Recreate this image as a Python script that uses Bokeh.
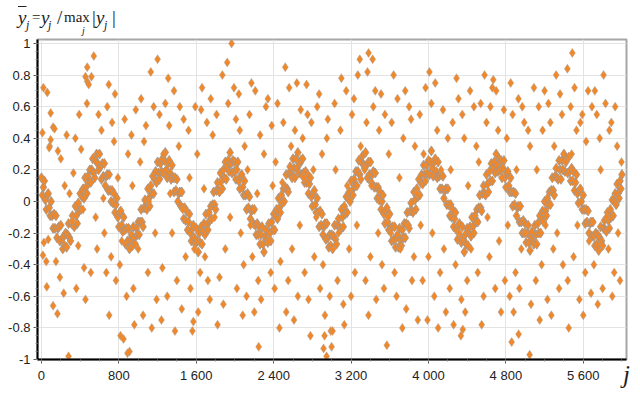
from bokeh.plotting import figure
from bokeh.models import FixedTicker, Range1d, Div
from bokeh.layouts import column
from bokeh.embed import file_html
from bokeh.resources import INLINE

# ---- axis ticks / labels ----
X_TICKS = [0, 800, 1600, 2400, 3200, 4000, 4800, 5600]
X_LABELS = ["0", "800", "1 600", "2 400", "3 200", "4 000", "4 800", "5 600"]
Y_TICKS = [-1, -0.8, -0.6, -0.4, -0.2, 0, 0.2, 0.4, 0.6, 0.8, 1]
Y_LABELS = ["-1", "-0.8", "-0.6", "-0.4", "-0.2", "0", "0.2", "0.4", "0.6", "0.8", "1"]

# ---- dense band of normalised values, read every 10 samples ----
band_j = list(range(0, 6001, 10))
band_y = [
    .15, .04, .09, .13, .01, -.05, .04, .05, -.04, -.09, .00, -.09, -.17, -.08, -.17, -.09, -.23, -.17, -.16, -.25, -.15, -.24, -.30, -.22, -.28,
    -.20, -.29, -.21, -.14, -.23, -.25, -.14, -.09, -.15, -.16, -.03, -.09, -.14, -.01, -.06, .05, -.05, .03, .08, .02, .15, .09, .05, .16, .12,
    .20, .12, .20, .27, .18, .15, .26, .30, .24, .20, .30, .22, .14, .24, .16, .24, .10, .16, .17, .07, .17, .07, .00, .07, -.01,
    .05, -.07, -.02, .02, -.10, -.16, -.07, -.06, -.15, -.19, -.10, -.18, -.27, -.17, -.25, -.17, -.30, -.24, -.21, -.28, -.16, -.23, -.27, -.17, -.21,
    -.13, -.21, -.13, -.05, -.13, -.16, -.04, .01, -.04, -.05, .08, .02, -.03, .10, .05, .16, .05, .14, .19, .12, .25, .18, .14, .24, .19,
    .27, .18, .26, .31, .20, .15, .24, .26, .18, .14, .23, .15, .06, .15, .07, .14, .00, .05, .06, -.03, .06, -.04, -.11, -.04, -.12,
    -.06, -.18, -.13, -.08, -.20, -.25, -.17, -.15, -.23, -.27, -.17, -.25, -.32, -.20, -.26, -.16, -.27, -.19, -.14, -.21, -.08, -.15, -.18, -.07, -.12,
    -.03, -.11, -.02, .06, -.02, -.05, .07, .12, .07, .06, .18, .13, .08, .20, .15, .25, .14, .22, .26, .19, .31, .24, .18, .26, .19,
    .25, .14, .20, .25, .13, .08, .16, .17, .09, .04, .13, .04, -.05, .05, -.04, .03, -.11, -.06, -.05, -.14, -.05, -.15, -.21, -.14, -.21,
    -.16, -.27, -.21, -.16, -.27, -.32, -.22, -.18, -.24, -.26, -.14, -.20, -.25, -.13, -.18, -.08, -.18, -.09, -.05, -.11, .02, -.04, -.07, .04, -.01,
    .08, .00, .09, .17, .08, .06, .18, .22, .17, .15, .27, .21, .15, .27, .21, .31, .18, .24, .26, .17, .27, .18, .12, .19, .12,
    .17, .05, .11, .15, .03, -.03, .05, .07, -.02, -.07, .02, -.07, -.16, -.06, -.15, -.08, -.21, -.16, -.14, -.24, -.14, -.23, -.29, -.21, -.28,
    -.21, -.30, -.22, -.15, -.24, -.27, -.15, -.11, -.16, -.18, -.05, -.10, -.16, -.03, -.08, .03, -.07, .02, .06, .00, .13, .07, .04, .14, .10,
    .19, .10, .19, .26, .17, .14, .25, .29, .23, .21, .31, .23, .15, .25, .17, .25, .12, .17, .19, .09, .18, .09, .02, .09, .01,
    .06, -.05, .00, .04, -.08, -.14, -.06, -.04, -.13, -.18, -.08, -.17, -.25, -.16, -.24, -.16, -.29, -.23, -.21, -.29, -.17, -.24, -.28, -.18, -.23,
    -.14, -.23, -.14, -.07, -.15, -.17, -.06, -.01, -.06, -.07, .06, .01, -.05, .08, .03, .14, .04, .12, .17, .11, .23, .17, .13, .23, .18,
    .26, .17, .25, .32, .21, .16, .25, .27, .19, .15, .25, .16, .08, .17, .08, .16, .02, .07, .08, -.02, .08, -.02, -.09, -.02, -.10,
    -.05, -.16, -.11, -.07, -.18, -.24, -.15, -.14, -.22, -.26, -.16, -.24, -.32, -.21, -.27, -.17, -.28, -.20, -.16, -.22, -.10, -.16, -.20, -.09, -.13,
    -.05, -.13, -.04, .04, -.04, -.06, .05, .10, .05, .04, .17, .11, .06, .19, .13, .24, .13, .21, .25, .18, .30, .23, .19, .27, .20,
    .26, .15, .21, .26, .15, .09, .18, .19, .10, .06, .15, .06, -.03, .06, -.02, .05, -.09, -.04, -.03, -.13, -.03, -.13, -.20, -.12, -.20,
    -.14, -.26, -.20, -.15, -.26, -.31, -.22, -.19, -.25, -.27, -.15, -.21, -.27, -.14, -.20, -.09, -.20, -.11, -.06, -.13, .00, -.06, -.09, .02, -.02,
    .06, -.02, .07, .15, .07, .04, .16, .21, .15, .14, .26, .20, .14, .26, .20, .30, .19, .25, .27, .18, .28, .19, .13, .21, .13,
    .19, .07, .12, .17, .05, -.01, .07, .08, .00, -.05, .04, -.05, -.14, -.05, -.13, -.06, -.20, -.14, -.13, -.22, -.13, -.22, -.28, -.20, -.27,
    -.21, -.31, -.23, -.16, -.25, -.28, -.17, -.12, -.18, -.19, -.07, -.12, -.17, -.05, -.10, .01, -.09, .00, .05, -.02, .11, .05, .02, .13, .08,
    .17,
]

# ---- scattered values away from the band (j, value) ----
outliers = [
    (20, .72), (60, .69), (10, .435), (95, .56), (120, .47), (135, .46), (95, .39), (85, .35), (80, .34), (170, .32),
    (25, -.26), (70, -.24), (15, -.34), (50, -.38), (150, -.38), (55, -.54), (120, -.66), (165, -.71), (280, -.98),
    (200, .27), (240, .10), (260, .42), (190, -.48), (230, -.58), (290, .05),
    (330, .18), (360, -.55), (390, .55), (410, .33), (440, -.42), (470, .62), (455, .79), (473, .85), (473, .76),
    (489, .74), (517, .79), (541, .92), (560, -.10), (575, -.30), (430, -.05), (350, .40), (455, -.62), (510, -.45),
    (590, .55), (320, -.12), (380, -.28),
    (620, .45), (650, -.20), (680, .60), (696, .74), (720, -.35), (750, .38), (770, -.50), (790, .15), (817, -.85),
    (848, -.87), (860, .52), (880, -.60), (700, -.72), (640, .02), (730, .50), (810, -.40), (760, .68), (895, .30),
    (670, -.45), (830, -.25),
    (889, -.96), (910, -.95), (930, .42), (950, -.55), (975, .58), (1000, -.30), (1030, .65), (1050, -.72), (1080, .48),
    (1100, -.45), (1130, .82), (1160, .60), (1190, -.62), (1020, .25), (960, -.78), (1110, .00), (1060, .38),
    (1175, -.20), (940, .10), (1140, -.80),
    (1200, .90), (1220, .55), (1250, -.42), (1280, .62), (1300, -.60), (1320, .48), (1350, -.20), (1370, .70),
    (1400, -.50), (1420, .35), (1450, -.68), (1470, .52), (1490, -.35), (1240, -.75), (1330, .05), (1380, -.82),
    (1430, .60), (1260, .30), (1460, -.05), (1310, .78),
    (1520, .45), (1540, -.55), (1560, -.82), (1570, -.76), (1590, .60), (1610, .30), (1640, -.45), (1660, .72),
    (1690, -.35), (1710, .50), (1740, -.62), (1770, .42), (1790, -.10), (1530, .15), (1620, -.70), (1680, .08),
    (1750, .65), (1580, -.30), (1720, -.50), (1650, .58),
    (1810, .55), (1840, -.48), (1870, .80), (1900, -.30), (1930, .62), (1965, 1.00), (1990, .72), (2020, -.55),
    (2050, .45), (2080, -.72), (2100, .35), (1850, .12), (1880, -.65), (1950, -.10), (2010, .52), (2060, -.20),
    (1820, -.78), (1920, .88), (2040, .68), (2090, -.40),
    (2120, -.60), (2150, .55), (2180, -.35), (2210, .70), (2240, -.50), (2260, .42), (2245, -.92), (2320, .60),
    (2350, -.25), (2380, .48), (2130, .20), (2170, .75), (2200, -.70), (2230, .05), (2270, -.62), (2300, .30),
    (2340, .65), (2370, -.45), (2390, .10), (2160, -.15),
    (2410, -.55), (2440, .62), (2470, -.38), (2500, .50), (2530, -.70), (2560, .72), (2590, -.30), (2620, .45),
    (2650, -.60), (2680, .58), (2420, .25), (2460, -.80), (2490, .12), (2520, .85), (2550, -.50), (2580, .35),
    (2610, -.75), (2640, .75), (2670, -.15), (2700, .40),
    (2720, -.45), (2740, .74), (2760, -.62), (2790, .50), (2820, -.35), (2850, .60), (2880, -.55), (2900, .30),
    (2930, -.72), (2960, .52), (2990, -.82), (2710, .15), (2750, .55), (2780, -.85), (2810, .20), (2840, -.10),
    (2870, .68), (2910, -.40), (2950, .40), (2980, -.60), (2926, -.85), (2916, -.93), (2947, -.98), (2999, -.92),
    (3009, -.82),
    (3030, .62), (3060, -.50), (3090, .45), (3120, -.65), (3150, .70), (3180, -.30), (3210, .55), (3240, -.45),
    (3270, .80), (3300, .35), (3040, .20), (3070, -.20), (3100, .78), (3130, -.78), (3160, .10), (3200, -.60),
    (3230, .65), (3260, -.15), (3290, .90),
    (3381, .94), (3423, .90), (3350, -.50), (3370, .82), (3400, -.35), (3430, .60), (3460, -.62), (3490, .45),
    (3520, -.40), (3550, .55), (3570, -.91), (3590, .30), (3340, .20), (3380, -.72), (3410, .10), (3450, .70),
    (3480, -.20), (3510, .68), (3540, -.55), (3580, -.10), (3360, .50),
    (3620, .50), (3650, -.45), (3680, .65), (3710, -.30), (3740, .40), (3770, -.68), (3800, .60), (3830, -.50),
    (3860, .35), (3890, -.75), (3610, -.20), (3640, .80), (3670, -.60), (3700, .15), (3730, -.80), (3760, .70),
    (3790, -.15), (3820, .52), (3850, -.35), (3880, .05),
    (3910, .55), (3940, -.50), (3970, .72), (4000, -.35), (4030, .62), (4060, -.60), (4090, .45), (4120, -.45),
    (4150, .58), (4180, -.70), (3920, -.15), (3950, .30), (3990, -.75), (4010, .82), (4040, -.20), (4070, .75),
    (4100, -.80), (4130, .20), (4160, -.30), (4200, .40),
    (4220, -.55), (4250, .50), (4280, -.40), (4310, .65), (4340, -.62), (4370, .40), (4400, -.50), (4430, .70),
    (4335, -.85), (4355, -.81), (4230, .20), (4260, -.78), (4290, .78), (4320, -.20), (4350, .55), (4380, -.70),
    (4410, .10), (4440, -.30), (4470, .60), (4495, .35),
    (4510, -.45), (4540, .62), (4570, -.60), (4600, .50), (4630, -.35), (4660, .72), (4690, -.55), (4720, .45),
    (4750, -.70), (4780, .58), (4520, .25), (4550, -.78), (4580, .80), (4610, -.10), (4640, .60), (4670, .77),
    (4700, .70), (4730, -.25), (4760, .15), (4790, -.50),
    (4810, .40), (4840, -.60), (4870, .55), (4900, -.45), (4930, .65), (4960, -.30), (4990, .50), (4860, -.89),
    (5050, .35), (4932, -.84), (4820, -.15), (4850, .75), (4880, -.70), (4910, .20), (4940, -.55), (4970, .60),
    (5000, -.20), (5030, .45), (5060, -.65), (5090, .72), (5046, -.97),
    (5110, -.50), (5140, .60), (5170, -.40), (5200, .70), (5230, -.62), (5260, .50), (5290, -.30), (5320, .80),
    (5350, -.55), (5380, .55), (5120, .20), (5150, -.75), (5180, .45), (5210, -.15), (5240, .62), (5270, -.72),
    (5300, .35), (5330, -.20), (5360, .68), (5390, -.40),
    (5487, .94), (5436, .84), (5440, -.50), (5470, .60), (5500, -.35), (5530, .45), (5560, -.62), (5590, .55),
    (5620, -.45), (5650, .70), (5680, -.58), (5420, .25), (5450, -.80), (5480, .30), (5510, .72), (5540, -.15),
    (5570, .50), (5600, -.72), (5630, .38), (5660, -.25), (5690, .60),
    (5710, -.40), (5740, .55), (5770, .40), (5800, -.55), (5830, .62), (5860, -.30), (5890, .50), (5920, -.45),
    (5950, .35), (5980, -.50), (5720, .70), (5750, -.65), (5780, .20), (5810, .80), (5840, -.10), (5870, .45),
    (5900, -.60), (5930, .60), (5960, -.20), (5995, .25),
]
out_j = [a for a, b in outliers]
out_y = [b for a, b in outliers]

# ---- layout (page has no margin: html/body margin 0 in Bokeh's template) ----
W = 636
DIV_H = 37
FIG_H = 353

p = figure(width=W, height=FIG_H, output_backend="svg", toolbar_location=None,
           x_range=Range1d(-41, 6047), y_range=Range1d(-1.0, 1.025),
           min_border_left=37, min_border_right=10, min_border_top=2, min_border_bottom=31,
           background_fill_color="white", border_fill_color="white")

p.outline_line_color = "#a6a6a6"
p.outline_line_width = 2

p.xaxis.ticker = FixedTicker(ticks=X_TICKS, minor_ticks=list(range(0, 6001, 200)))
p.yaxis.ticker = FixedTicker(ticks=Y_TICKS, minor_ticks=[i / 20 for i in range(-20, 21)])
p.xaxis.major_label_overrides = dict(zip(X_TICKS, X_LABELS))
p.yaxis.major_label_overrides = dict(zip(Y_TICKS, Y_LABELS))

for ax in (p.xaxis[0], p.yaxis[0]):
    ax.axis_line_color = "black"
    ax.axis_line_width = 2
    ax.major_tick_line_color = "#555555"
    ax.major_tick_out = 4
    ax.major_tick_in = 0
    ax.minor_tick_line_color = "#888888"
    ax.minor_tick_out = 2
    ax.minor_tick_in = 0
    ax.major_label_text_font = "Liberation Sans"
    ax.major_label_text_font_size = "13px"
    ax.major_label_text_color = "#222222"
p.xaxis.major_label_standoff = 4
p.yaxis.major_label_standoff = 3

# italic "j" at the right end of the horizontal axis
xa = p.xaxis[0]
xa.axis_label = "j"
xa.axis_label_text_font = "Liberation Serif"
xa.axis_label_text_font_style = "italic"
xa.axis_label_text_font_size = "25px"
xa.axis_label_text_color = "#222222"
xa.axis_label_standoff = -25
if "axis_label_align" in xa.properties():
    xa.axis_label_align = "end"

p.xgrid.ticker = FixedTicker(ticks=X_TICKS)
p.ygrid.ticker = FixedTicker(ticks=Y_TICKS)
p.grid.grid_line_color = "#e3e3e3"
p.grid.grid_line_width = 1

p.scatter(band_j, band_y, marker="diamond", size=10, fill_color="#f0882a",
          line_color="#a0968e", line_width=1, line_alpha=0.8)
p.scatter(out_j, out_y, marker="diamond", size=9, fill_color="#f0882a",
          line_color="#a8a29c", line_width=1, line_alpha=0.45)


# ---- formula title:  y-bar_j = y_j / max_j |y_j|  (real text, serif) ----
def piece(text, left, base, size, italic=False, extra=""):
    top = base - 0.837 * size
    style = (f"position:absolute;left:{left}px;top:{top:.1f}px;font-size:{size}px;"
             f"line-height:1;white-space:nowrap;{'font-style:italic;' if italic else ''}{extra}")
    return f'<span style="{style}">{text}</span>'


pieces = [
    piece("y", 18, 24, 19, True, "text-decoration:overline;"),
    piece("j", 26, 29, 12, True),
    piece("=", 32, 23, 15),
    piece("y", 41, 24, 19, True),
    piece("j", 48, 29, 12, True),
    piece("/", 57, 24, 19),
    piece("max", 64, 23, 15),
    piece("j", 82, 34, 10, True),
    piece("|", 92, 24, 19),
    piece("y", 96, 24, 19, True),
    piece("j", 104, 29, 12, True),
    piece("|", 112, 24, 19),
]
title_html = ('<div style="position:relative;width:%dpx;height:%dpx;'
              'font-family:\'Liberation Serif\',serif;color:#222222;">%s</div>'
              % (W, DIV_H, "".join(pieces)))
title = Div(text=title_html, width=W, height=DIV_H, margin=(0, 0, 0, 0))

layout = column(title, p, spacing=0)

open("out.html", "w").write(file_html(layout, INLINE))
